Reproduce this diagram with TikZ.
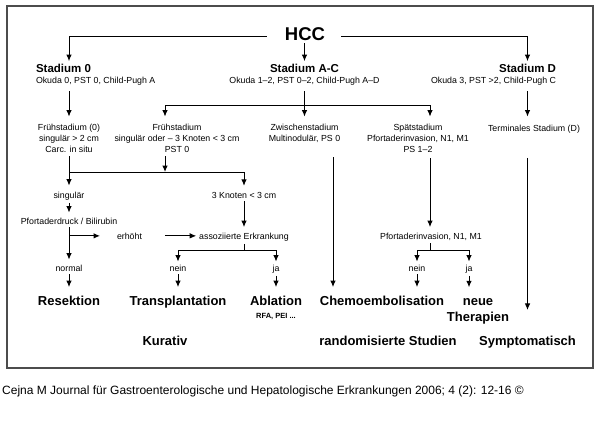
\documentclass[tikz,border=0pt]{standalone}
\usepackage{fontspec}
\setmainfont{Liberation Sans}
\usepackage{tikz}
\usetikzlibrary{arrows.meta}

\begin{document}
\begin{tikzpicture}[x=1pt,y=-1pt]
\tikzset{small/.style = {font=\fontsize{8.8}{11}\selectfont, inner sep=0pt, outer sep=3pt}}
\tikzset{block/.style = {small, align=center}}
\tikzset{stage/.style = {font=\bfseries\fontsize{11.5}{13}\selectfont, inner sep=0pt, outer sep=3pt}}
\tikzset{therapy/.style = {font=\bfseries\fontsize{13}{16.5}\selectfont, inner sep=0pt, outer sep=3pt}}
\tikzset{edge/.style = {->,> = {Latex[length=6.5pt,width=5.5pt]}, line width=1pt}}
\tikzset{bus/.style = {line width=1pt}}
\useasboundingbox (0,0) rectangle (600,437);
\draw[line width=1.1pt, black!70] (7,6) rectangle (593,368);
\node[font=\bfseries\fontsize{18.5}{20}\selectfont, inner sep=0pt, outer sep=3pt, anchor=base](hcc) at (305,40) {HCC};
\node[stage, anchor=base west](st0) at (33,72.5) {Stadium 0};
\node[stage, anchor=base](stac) at (304.5,72.5) {Stadium A-C};
\node[stage, anchor=base east](std) at (559,72.5) {Stadium D};
\node[small, anchor=base west](ok0) at (33,83.5) {Okuda 0, PST 0, Child-Pugh A};
\node[small, anchor=base](okac) at (304.5,83.5) {Okuda 1–2, PST 0–2, Child-Pugh A–D};
\node[small, anchor=base east](okd) at (559,83.5) {Okuda 3, PST >2, Child-Pugh C};
\node[block, anchor=north](fr0) at (69,121.6) {Frühstadium (0)\\singulär > 2 cm\\Carc. in situ};
\node[block, anchor=north](fr) at (177,121.6) {Frühstadium\\singulär oder – 3 Knoten < 3 cm\\PST 0};
\node[block, anchor=north](zw) at (304.5,121.6) {Zwischenstadium\\Multinodulär, PS 0};
\node[block, anchor=north](sp) at (418,121.6) {Spätstadium\\Pfortaderinvasion, N1, M1\\PS 1–2};
\node[small, anchor=base](term) at (534,131) {Terminales Stadium (D)};
\node[small, anchor=base](sing) at (69,198) {singulär};
\node[small, anchor=base](kn3) at (244,198) {3 Knoten < 3 cm};
\node[small, anchor=base](pfo) at (69,224) {Pfortaderdruck / Bilirubin};
\node[small, anchor=base](erh) at (129.5,239) {erhöht};
\node[small, anchor=base](ass) at (244,239) {assoziierte Erkrankung};
\node[small, anchor=base](pfi) at (431,239) {Pfortaderinvasion, N1, M1};
\node[small, anchor=base](nor) at (69,271) {normal};
\node[small, anchor=base](nein1) at (178,271) {nein};
\node[small, anchor=base](ja1) at (276,271) {ja};
\node[small, anchor=base](nein2) at (417,271) {nein};
\node[small, anchor=base](ja2) at (469,271) {ja};
\node[therapy, anchor=base](res) at (69,305) {Resektion};
\node[therapy, anchor=base](trans) at (178,305) {Transplantation};
\node[therapy, anchor=base](abl) at (276,305) {Ablation};
\node[font=\bfseries\fontsize{7.5}{9}\selectfont, inner sep=0pt, anchor=base](rfa) at (276,318) {RFA, PEI ...};
\node[therapy, anchor=base](chemo) at (382,305) {Chemoembolisation};
\node[therapy, align=center, anchor=north](neue) at (478,295.3) {neue\\Therapien};
\node[therapy, anchor=base](kur) at (165,345) {Kurativ};
\node[therapy, anchor=base](rand) at (388,345) {randomisierte Studien};
\node[therapy, anchor=base](sym) at (527.5,345) {Symptomatisch};
\node[font=\fontsize{12}{14}\selectfont, inner sep=0pt, anchor=base west](src) at (2,394) {Cejna M Journal für Gastroenterologische und Hepatologische Erkrankungen 2006; 4 (2): 12-16 ©};
\coordinate (cF) at (165,172);
\coordinate (cZ) at (333,0);
\coordinate (cS) at (430,0);
\coordinate (yA) at (0,105);
\coordinate (yB) at (0,250);
% HCC to the stages
\draw[edge] ([yshift=-3pt]hcc.west) ++(-15,0) -| (st0.north -| fr0);
\draw[edge] (hcc.south -| stac) -- (stac.north);
\draw[edge] ([yshift=-3pt]hcc.east) ++(13,0) -| (std.north -| sym);
\draw[edge, shorten <=3pt, shorten >=5pt] (ok0.south -| fr0) -- (fr0.north);
\draw[edge, shorten <=3pt, shorten >=5pt] (okac.south) -- (zw.north);
\draw[edge, shorten >=5pt] (okac.south |- yA) -| (fr.north -| cF);
\draw[edge, shorten >=5pt] (okac.south |- yA) -| (sp.north -| cS);
\draw[edge, shorten <=3pt, shorten >=5pt] (okd.south -| sym) -- (term.north -| sym);
% Fruehstadium
\draw[edge, shorten >=3pt] (fr0.south) -- (sing.north);
\draw[edge] (fr.south -| cF) -- (cF);
\draw[edge, shorten >=3pt] (fr0 |- cF) -| (kn3.north);
\draw[edge, shorten >=2pt] (sing.south) -- (pfo.north);
\draw[edge, shorten >=2.5pt] (kn3.south) -- (ass.north);
\draw[edge, shorten >=2pt] (pfo.south) -- (nor.north);
\draw[edge, shorten >=14pt] (pfo.south |- erh) -- (erh.west);
\draw[edge, shorten <=20pt] (erh.east) -- (ass.west |- erh.east);
\draw[bus] (ass.south) -- (ass.south |- yB);
\draw[edge] (ass.south |- yB) -| (nein1.north);
\draw[edge] (ass.south |- yB) -| (ja1.north);
\draw[edge, shorten >=5.5pt] (nor.south) -- (res.north);
\draw[edge, shorten >=5.5pt] (nein1.south) -- (trans.north);
\draw[edge, shorten >=5.5pt] (ja1.south) -- (abl.north);
% Zwischen-, Spaet- und Terminalstadium
\draw[edge, shorten <=11pt, shorten >=5.5pt] (zw.south -| cZ) -- (chemo.north -| cZ);
\draw[edge, shorten <=2pt, shorten >=2.5pt] (sp.south -| cS) -- (pfi.north -| cS);
\draw[bus] (pfi.south -| cS) -- (cS |- yB);
\draw[edge] (cS |- yB) -| (nein2.north);
\draw[edge] (cS |- yB) -| (ja2.north);
\draw[edge, shorten >=5.5pt] (nein2.south) -- (chemo.north -| nein2);
\draw[edge, shorten >=8pt] (ja2.south) -- (neue.north -| ja2);
\draw[edge, shorten <=22pt, shorten >=22.6pt] (term.south -| sym) -- (sym.north);
\end{tikzpicture}
\end{document}
